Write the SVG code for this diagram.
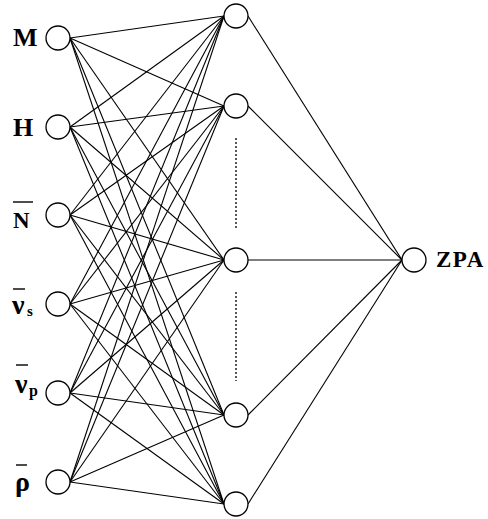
<svg xmlns="http://www.w3.org/2000/svg" width="488" height="519" viewBox="0 0 488 519">
<style>
.node{fill:#fff;stroke:#000;stroke-width:1.3}
.conn line{stroke:#000;stroke-width:1.1}
.lbl{font-family:"Liberation Serif","Times New Roman",serif;font-weight:bold;fill:#000}
.bar{stroke:#000;stroke-width:1.4}
.dots{stroke:#000;stroke-width:1.3;stroke-dasharray:2 2}
</style>
<rect width="488" height="519" fill="#fff"/>
<g id="connectors" class="conn">
<line x1="70" y1="38" x2="224" y2="16"/><line x1="70" y1="38" x2="224" y2="106"/><line x1="70" y1="38" x2="224" y2="260"/><line x1="70" y1="38" x2="224" y2="415"/><line x1="70" y1="38" x2="224" y2="504"/>
<line x1="70" y1="127" x2="224" y2="16"/><line x1="70" y1="127" x2="224" y2="106"/><line x1="70" y1="127" x2="224" y2="260"/><line x1="70" y1="127" x2="224" y2="415"/><line x1="70" y1="127" x2="224" y2="504"/>
<line x1="70" y1="215" x2="224" y2="16"/><line x1="70" y1="215" x2="224" y2="106"/><line x1="70" y1="215" x2="224" y2="260"/><line x1="70" y1="215" x2="224" y2="415"/><line x1="70" y1="215" x2="224" y2="504"/>
<line x1="70" y1="304" x2="224" y2="16"/><line x1="70" y1="304" x2="224" y2="106"/><line x1="70" y1="304" x2="224" y2="260"/><line x1="70" y1="304" x2="224" y2="415"/><line x1="70" y1="304" x2="224" y2="504"/>
<line x1="70" y1="393" x2="224" y2="16"/><line x1="70" y1="393" x2="224" y2="106"/><line x1="70" y1="393" x2="224" y2="260"/><line x1="70" y1="393" x2="224" y2="415"/><line x1="70" y1="393" x2="224" y2="504"/>
<line x1="70" y1="482" x2="224" y2="16"/><line x1="70" y1="482" x2="224" y2="106"/><line x1="70" y1="482" x2="224" y2="260"/><line x1="70" y1="482" x2="224" y2="415"/><line x1="70" y1="482" x2="224" y2="504"/>
<line x1="248" y1="16" x2="402" y2="260"/><line x1="248" y1="106" x2="402" y2="260"/><line x1="248" y1="260" x2="402" y2="260"/><line x1="248" y1="415" x2="402" y2="260"/><line x1="248" y1="504" x2="402" y2="260"/>
</g>
<line class="dots" x1="236" y1="138" x2="236" y2="228"/>
<line class="dots" x1="236" y1="292" x2="236" y2="381"/>
<g id="in-M"><circle class="node" cx="58" cy="38" r="12"/><text class="lbl" x="13" y="46" font-size="26">M</text></g>
<g id="in-H"><circle class="node" cx="58" cy="127" r="12"/><text class="lbl" x="13" y="136" font-size="26">H</text></g>
<g id="in-N"><circle class="node" cx="58" cy="215" r="12"/><line class="bar" x1="13" y1="202" x2="33" y2="202"/><text class="lbl" x="13" y="228" font-size="23">N</text></g>
<g id="in-vs"><circle class="node" cx="58" cy="304" r="12"/><line class="bar" x1="13" y1="289" x2="25" y2="289"/><text class="lbl" x="12" y="314" font-size="28">ν</text><text class="lbl" x="27" y="316" font-size="15">s</text></g>
<g id="in-vp"><circle class="node" cx="58" cy="393" r="12"/><line class="bar" x1="16" y1="365" x2="28" y2="365"/><text class="lbl" x="15" y="393" font-size="28">ν</text><text class="lbl" x="29" y="396" font-size="16">p</text></g>
<g id="in-rho"><circle class="node" cx="58" cy="482" r="12"/><line class="bar" x1="16" y1="465" x2="27" y2="465"/><text class="lbl" x="15" y="491" font-size="28">ρ</text></g>
<g id="h1"><circle class="node" cx="236" cy="16" r="12"/></g>
<g id="h2"><circle class="node" cx="236" cy="106" r="12"/></g>
<g id="h3"><circle class="node" cx="236" cy="260" r="12"/></g>
<g id="h4"><circle class="node" cx="236" cy="415" r="12"/></g>
<g id="h5"><circle class="node" cx="236" cy="504" r="12"/></g>
<g id="out-ZPA"><circle class="node" cx="414" cy="260" r="12"/><text class="lbl" x="436" y="267" font-size="23" letter-spacing="1.5">ZPA</text></g>
</svg>
